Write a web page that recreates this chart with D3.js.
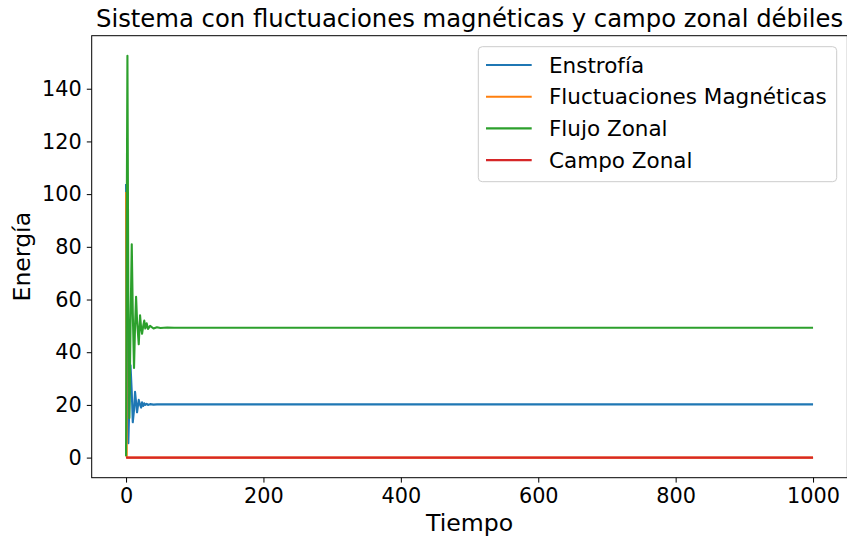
<!DOCTYPE html>
<html>
<head>
<meta charset="utf-8">
<script src="https://cdn.jsdelivr.net/npm/d3@7"></script>
<style>
  body { margin: 0; background: #fff; }
  svg { display: block; font-family: "DejaVu Sans", sans-serif; }
</style>
</head>
<body>
<svg width="847" height="542"></svg>
<script>
// values (time samples shared by all series)
const time = [0, 1, 2, 3.3, 4.8, 6.5, 8.3, 9.8, 11.6, 13.1, 14.6, 16, 18.5, 20.4, 22, 23.3, 25, 26.5, 28, 30, 32, 35, 40, 45, 50, 60, 70, 1000];
const enstrofia = [103.8, 60, 25, 5.5, 20, 35, 25, 13.4, 18, 25, 21, 17.2, 21.9, 20, 19, 21, 19.6, 20.6, 20, 20.4, 20, 20.3, 20.1, 20.2, 20.2, 20.2, 20.2, 20.2];
const fluctMag = [100.8, 0.3, 0, 0, 0, 0, 0, 0, 0, 0, 0, 0, 0, 0, 0, 0, 0, 0, 0, 0, 0, 0, 0, 0, 0, 0, 0, 0];
const flujoZonal = [0.5, 90, 152.5, 60, 15, 50, 81, 55, 34, 50, 61, 52, 43, 54, 49, 47, 50, 52, 49, 51, 48.8, 50, 49, 49.5, 49.2, 49.4, 49.3, 49.3];
const campoZonal = [0, 0, 0, 0, 0, 0, 0, 0, 0, 0, 0, 0, 0, 0, 0, 0, 0, 0, 0, 0, 0, 0, 0, 0, 0, 0, 0, 0];

const seriesNames = ["Enstrofía", "Fluctuaciones Magnéticas", "Flujo Zonal", "Campo Zonal"];
const seriesValues = [enstrofia, fluctMag, flujoZonal, campoZonal];
const colors = ["#1f77b4", "#ff7f0e", "#2ca02c", "#d62728"];

const xTicks = [0, 200, 400, 600, 800, 1000];
const yTicks = [0, 20, 40, 60, 80, 100, 120, 140];

const svg = d3.select("svg");
const plotLeft = 91.7, plotRight = 847.4, plotTop = 35.7, plotBottom = 477.7;

// matplotlib-style 5% margins
function padded(lo, hi) {
  const m = (hi - lo) * 0.05;
  return [lo - m, hi + m];
}
const allY = seriesValues.flat();
const x = d3.scaleLinear().domain(padded(d3.min(time), d3.max(time))).range([plotLeft, plotRight]);
const y = d3.scaleLinear().domain(padded(d3.min(allY), d3.max(allY))).range([plotBottom, plotTop]);

svg.append("clipPath").attr("id", "plot")
  .append("rect").attr("x", plotLeft).attr("y", plotTop)
  .attr("width", plotRight - plotLeft).attr("height", plotBottom - plotTop);

const line = d3.line().x((d) => x(d[0])).y((d) => y(d[1]));

const lines = svg.append("g").attr("clip-path", "url(#plot)");
seriesValues.forEach((vals, i) => {
  lines.append("path")
    .datum(time.map((t, j) => [t, vals[j]]))
    .attr("d", line)
    .attr("fill", "none")
    .attr("stroke", colors[i])
    .attr("stroke-width", 2.1)
    .attr("stroke-linejoin", "round");
});

// axes
const xAxis = svg.append("g")
  .attr("transform", `translate(0,${plotBottom})`)
  .call(d3.axisBottom(x).tickValues(xTicks).tickFormat(d3.format("d"))
    .tickSize(4.9).tickPadding(5.5).tickSizeOuter(0));
const yAxis = svg.append("g")
  .attr("transform", `translate(${plotLeft},0)`)
  .call(d3.axisLeft(y).tickValues(yTicks).tickFormat(d3.format("d"))
    .tickSize(4.9).tickPadding(5).tickSizeOuter(0));

[xAxis, yAxis].forEach((g) => {
  g.select(".domain").remove();
  g.selectAll("line").attr("stroke", "#000").attr("stroke-width", 1);
  g.selectAll("text").attr("font-size", 20.8).attr("fill", "#000")
    .attr("font-family", "DejaVu Sans, sans-serif");
});

svg.append("rect")
  .attr("x", plotLeft).attr("y", plotTop)
  .attr("width", plotRight - plotLeft).attr("height", plotBottom - plotTop)
  .attr("fill", "none").attr("stroke", "#000").attr("stroke-width", 1);

// labels
svg.append("text")
  .attr("x", (plotLeft + plotRight) / 2).attr("y", 27)
  .attr("text-anchor", "middle").attr("font-size", 24.3)
  .text("Sistema con fluctuaciones magnéticas y campo zonal débiles");

svg.append("text")
  .attr("x", (plotLeft + plotRight) / 2).attr("y", 531)
  .attr("text-anchor", "middle").attr("font-size", 23.6)
  .text("Tiempo");

svg.append("text")
  .attr("transform", `translate(30,${(plotTop + plotBottom) / 2}) rotate(-90)`)
  .attr("text-anchor", "middle").attr("font-size", 23.6)
  .text("Energía");

// legend
const legend = svg.append("g");
legend.append("rect")
  .attr("x", 478.3).attr("y", 46.7)
  .attr("width", 836.7 - 478.3).attr("height", 181.7 - 46.7)
  .attr("rx", 4).attr("ry", 4)
  .attr("fill", "#fff").attr("fill-opacity", 0.8)
  .attr("stroke", "#cccccc").attr("stroke-width", 1);

seriesNames.forEach((name, i) => {
  const cy = 65 + i * 31.7;
  legend.append("line")
    .attr("x1", 486).attr("x2", 531.7).attr("y1", cy).attr("y2", cy)
    .attr("stroke", colors[i]).attr("stroke-width", 2.1);
  legend.append("text")
    .attr("x", 549).attr("y", cy).attr("dy", "0.36em")
    .attr("font-size", 21.5)
    .text(name);
});
</script>
</body>
</html>
